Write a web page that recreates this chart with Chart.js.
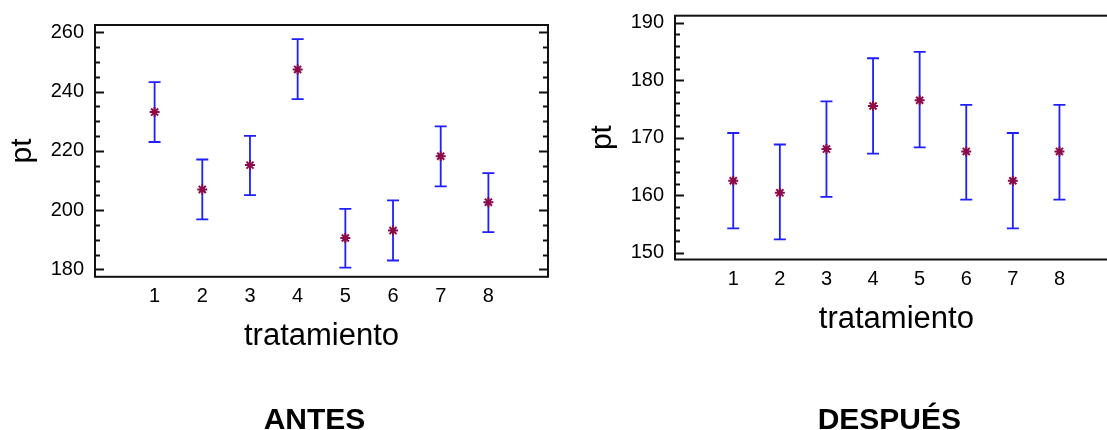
<!DOCTYPE html>
<html><head><meta charset="utf-8">
<script src="https://cdn.jsdelivr.net/npm/chart.js@4/dist/chart.umd.min.js"></script>
<style>
html,body{margin:0;padding:0;background:#fff;overflow:hidden;width:1107px;height:430px;position:relative;}
.wrap{position:absolute;top:0;height:430px;width:560px;}
#w1{left:0;}
#w2{left:580px;}
</style></head><body>
<div class="wrap" id="w1"><canvas id="c1"></canvas></div>
<div class="wrap" id="w2"><canvas id="c2"></canvas></div>
<script>
// ---- data ----
const categories = ['1','2','3','4','5','6','7','8'];

const antesMean  = [233.1, 207.0, 215.2, 247.5, 190.6, 193.1, 218.2, 202.7];
const antesLow   = [223.0, 196.9, 205.1, 237.5, 180.6, 183.0, 208.0, 192.6];
const antesHigh  = [243.2, 217.1, 225.1, 257.7, 200.4, 203.3, 228.3, 212.5];
const antesMajorTicks = [180, 200, 220, 240, 260];
const antesMinorStep = 5;

const despuesMean = [162.5, 160.4, 168.0, 175.5, 176.5, 167.6, 162.5, 167.6];
const despuesLow  = [154.2, 152.3, 159.7, 167.2, 168.3, 159.2, 154.2, 159.2];
const despuesHigh = [170.8, 168.8, 176.3, 183.8, 184.9, 175.7, 170.8, 175.7];
const despuesMajorTicks = [150, 160, 170, 180, 190];
const despuesMinorStep = 2;

const xTitle = 'tratamiento';
const yTitle = 'pt';

Chart.defaults.font.family = '"Liberation Sans", Arial, sans-serif';
Chart.defaults.color = '#000';

function makeChart(id, means, lows, highs, majors, minorStep, yMin, yMax, caption, pad) {
  const errorBars = {
    id: 'errorBars',
    beforeDatasetsDraw(chart) {
      const {ctx, scales: {x, y}} = chart;
      ctx.save();
      ctx.strokeStyle = '#1f1fff';
      ctx.lineWidth = 1.8;
      means.forEach((m, i) => {
        const px = x.getPixelForValue(i + 1);
        const pLo = y.getPixelForValue(lows[i]);
        const pHi = y.getPixelForValue(highs[i]);
        ctx.beginPath();
        ctx.moveTo(px, pLo); ctx.lineTo(px, pHi);
        ctx.moveTo(px - 6, pLo); ctx.lineTo(px + 6, pLo);
        ctx.moveTo(px - 6, pHi); ctx.lineTo(px + 6, pHi);
        ctx.stroke();
      });
      ctx.restore();
    },
    afterDraw(chart) {
      const {ctx, chartArea: a, scales: {y}} = chart;
      ctx.save();
      ctx.strokeStyle = '#111';
      ctx.lineWidth = 2;
      ctx.strokeRect(a.left, a.top, a.right - a.left, a.bottom - a.top);
      y.ticks.forEach(t => {
        const py = Math.round(y.getPixelForValue(t.value)) + 0.5;
        const len = majors.includes(t.value) ? 9 : 5;
        ctx.beginPath();
        ctx.moveTo(a.left, py); ctx.lineTo(a.left + len, py);
        ctx.moveTo(a.right, py); ctx.lineTo(a.right - len, py);
        ctx.stroke();
      });
      ctx.fillStyle = '#000';
      ctx.font = 'bold 30px "Liberation Sans", Arial, sans-serif';
      ctx.textAlign = 'center';
      ctx.textBaseline = 'alphabetic';
      ctx.fillText(caption, (a.left + a.right) / 2 - 7, 429);
      ctx.restore();
    }
  };

  return new Chart(document.getElementById(id), {
    type: 'scatter',
    data: {
      datasets: [{
        data: means.map((m, i) => ({x: i + 1, y: m})),
        pointStyle: 'star',
        radius: 5,
        borderColor: '#8b0a4a',
        backgroundColor: '#8b0a4a',
        borderWidth: 2
      }]
    },
    plugins: [errorBars],
    options: {
      responsive: true,
      maintainAspectRatio: false,
      animation: false,
      devicePixelRatio: 1,
      layout: {padding: pad},
      plugins: {legend: {display: false}, tooltip: {enabled: false}},
      scales: {
        x: {
          type: 'linear',
          min: -0.25, max: 9.25,
          afterBuildTicks: s => { s.ticks = categories.map((c, i) => ({value: i + 1})); },
          ticks: {
            callback: (v, i) => categories[i],
            font: {size: 20}, color: '#000', padding: 8,
            maxRotation: 0, autoSkip: false
          },
          grid: {display: false, drawTicks: false},
          border: {display: false},
          title: {display: true, text: xTitle, font: {size: 31}, color: '#000', padding: {top: 1, bottom: 0}}
        },
        y: {
          min: yMin, max: yMax,
          afterBuildTicks: s => {
            const t = [];
            for (let v = majors[0]; v <= majors[majors.length - 1] + 1e-9; v += minorStep) t.push({value: v});
            s.ticks = t;
          },
          afterFit: s => { s.width = 95; s.paddingTop = 0; s.paddingBottom = 0; },
          ticks: {
            callback: v => majors.includes(v) ? String(v) : '',
            font: {size: 20}, color: '#000', padding: 11, autoSkip: false
          },
          grid: {display: false, drawTicks: false},
          border: {display: false},
          title: {display: true, text: yTitle, font: {size: 30}, color: '#000', padding: {top: 5, bottom: 0}}
        }
      }
    }
  });
}

makeChart('c1', antesMean, antesLow, antesHigh, antesMajorTicks, antesMinorStep, 177.5, 262.5, 'ANTES',
  {left: 0, right: 12, top: 25, bottom: 75});
makeChart('c2', despuesMean, despuesLow, despuesHigh, despuesMajorTicks, despuesMinorStep, 148.8, 191.2, 'DESPUÉS',
  {left: 0, right: 22.3, top: 15.7, bottom: 92.3});
</script>
</body></html>
